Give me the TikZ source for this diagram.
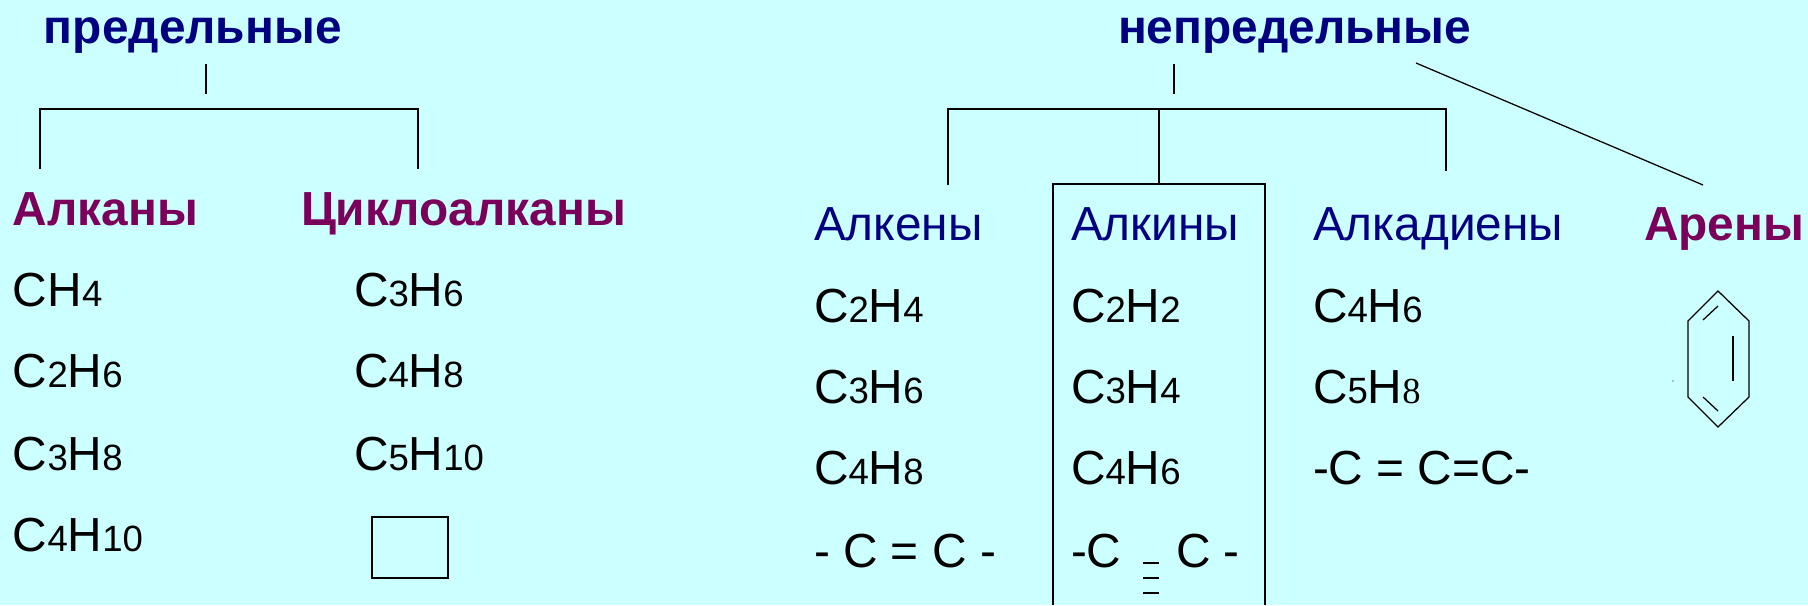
\documentclass[tikz,border=0pt]{standalone}
\usepackage{fontspec}
\setmainfont{Liberation Sans}
\newfontfamily\timesfont{Liberation Serif}
\definecolor{bgcyan}{RGB}{204,255,255}
\definecolor{headblue}{RGB}{0,0,128}
\definecolor{classpurple}{RGB}{122,0,92}
\newcommand{\sub}[1]{{\fontsize{26}{26}\selectfont #1}}
\tikzset{
	txt/.style={anchor=base west,inner sep=0pt,outer sep=0pt},
	head/.style={txt,text=headblue,font=\fontsize{34}{38}\selectfont\bfseries},
	classbold/.style={txt,text=classpurple,font=\fontsize{34}{38}\selectfont\bfseries},
	classthin/.style={txt,text=headblue,font=\fontsize{34}{38}\selectfont},
	formula/.style={txt,font=\fontsize{34}{38}\selectfont},
	ln/.style={line width=0.9pt}
}
\begin{document}
\begin{tikzpicture}[x=0.025cm,y=-0.025cm]
	\fill [bgcyan] (0,0) rectangle (1808,605);
	\useasboundingbox (0,0) rectangle (1808,605);
	\node [head] (pred) at (44,44) {предельные};
	\node [head] (nepred) at (1118,44) {непредельные};
	\node [classbold] (alkany) at (13,225) {Алканы};
	\node [classbold] (cikloalk) at (301,225) {Циклоалканы};
	\node [classthin] (alkeny) at (814,240) {Алкены};
	\node [classthin] (alkiny) at (1071,240) {Алкины};
	\node [classthin] (alkadieny) at (1313,240) {Алкадиены};
	\node [classbold] (areny) at (1644,240) {Арены};
	\node [formula] (a1) at (13,306) {CH\sub{4}};
	\node [formula] (a2) at (13,387) {C\sub{2}H\sub{6}};
	\node [formula] (a3) at (13,470) {C\sub{3}H\sub{8}};
	\node [formula] (a4) at (13,551) {C\sub{4}H\sub{10}};
	\node [formula] (c1) at (354,306) {C\sub{3}H\sub{6}};
	\node [formula] (c2) at (354,387) {C\sub{4}H\sub{8}};
	\node [formula] (c3) at (354,470) {C\sub{5}H\sub{10}};
	\node [formula] (e1) at (814,322) {C\sub{2}H\sub{4}};
	\node [formula] (e2) at (814,403) {C\sub{3}H\sub{6}};
	\node [formula] (e3) at (814,484) {C\sub{4}H\sub{8}};
	\node [formula] (e4) at (814,567) {- C = C -};
	\node [formula] (i1) at (1071,322) {C\sub{2}H\sub{2}};
	\node [formula] (i2) at (1071,403) {C\sub{3}H\sub{4}};
	\node [formula] (i3) at (1071,484) {C\sub{4}H\sub{6}};
	\node [formula] (i4) at (1071,567) {-C};
	\node [formula] (i5) at (1176,567) {C -};
	\node [formula] (d1) at (1313,322) {C\sub{4}H\sub{6}};
	\node [formula] (d2) at (1313,403) {C\sub{5}H{\timesfont\sub{8}}};
	\node [formula] (d3) at (1313,484) {-C = C=C-};
	\coordinate (predt) at (206,64);
	\coordinate (predb) at (206,94);
	\coordinate (predl) at (40,109);
	\coordinate (predr) at (418,109);
	\coordinate (alkanyt) at (40,169);
	\coordinate (ciklt) at (418,169);
	\draw [ln] (predt) -- (predb);
	\draw [ln] (alkanyt) -- (predl) -- (predr) -- (ciklt);
	\coordinate (nept) at (1174,64);
	\coordinate (nepb) at (1174,94);
	\coordinate (nepl) at (948,109);
	\coordinate (nepm) at (1159,109);
	\coordinate (nepr) at (1446,109);
	\coordinate (alkenyt) at (948,185);
	\coordinate (alkinyt) at (1159,184);
	\coordinate (alkadt) at (1446,171);
	\coordinate (diagt) at (1416,63);
	\coordinate (diagb) at (1703,185);
	\draw [ln] (nept) -- (nepb);
	\draw [ln] (alkenyt) -- (nepl) -- (nepr) -- (alkadt);
	\draw [ln] (nepm) -- (alkinyt);
	\draw [ln] (diagt) -- (diagb);
	\coordinate (boxbl) at (1053,605);
	\coordinate (boxtl) at (1053,184);
	\coordinate (boxtr) at (1265,184);
	\coordinate (boxbr) at (1265,605);
	\draw [ln] (boxbl) -- (boxtl) -- (boxtr) -- (boxbr);
	\foreach \yy in {563,578,593}
		\draw [ln] (1143,\yy) -- (1159,\yy);
	\draw [ln] (372,517) rectangle (448,578);
	\draw [ln] (1718,291) -- (1749,321) -- (1749,397) -- (1718,427) -- (1688,397) -- (1688,321) -- cycle;
	\draw [ln] (1703,320) -- (1718,306);
	\draw [ln] (1733,336) -- (1733,381);
	\draw [ln] (1703,397) -- (1718,411);
	\fill (1673,381) circle [radius=0.6];
\end{tikzpicture}
\end{document}
